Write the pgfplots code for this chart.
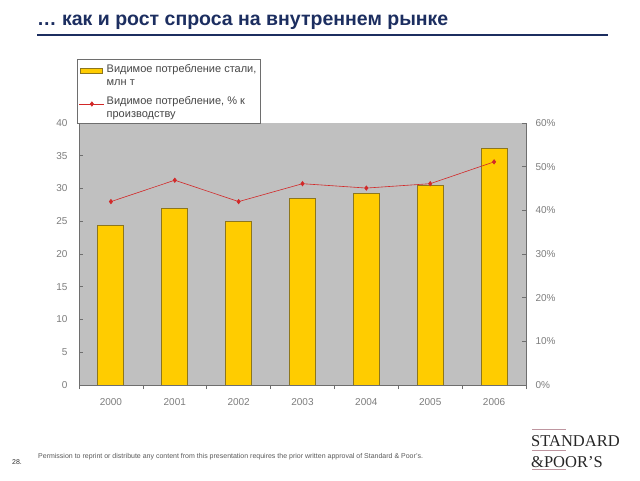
\documentclass[border=0pt]{standalone}
\usepackage{pgfplots}
\pgfplotsset{compat=1.18}
\usepackage{fontspec}
\setmainfont{Liberation Sans}
\newfontfamily\logofont{Liberation Serif}
\definecolor{navy}{RGB}{28,46,96}
\definecolor{plotbg}{RGB}{192,192,192}
\definecolor{barfill}{RGB}{255,204,0}
\definecolor{baredge}{RGB}{140,118,30}
\definecolor{linered}{RGB}{210,40,40}
\definecolor{ticktext}{RGB}{125,125,125}
\definecolor{axisgray}{RGB}{110,110,110}
\definecolor{legtext}{RGB}{70,70,70}
\definecolor{logoline}{RGB}{190,150,160}
\pgfplotsset{
  barleg/.style={legend image code/.code={\draw[##1] (0pt,2pt) rectangle (22pt,7pt);}},
  lineleg/.style={legend image code/.code={\draw[mark repeat=2,mark phase=2,##1] plot coordinates {(-1pt,3.5pt)(11.5pt,3.5pt)(24pt,3.5pt)};}},
}
\begin{document}
\begin{tikzpicture}[x=1pt,y=1pt]
\path[use as bounding box, fill=white] (0pt,0pt) rectangle (640pt,480pt);
% title
\node[anchor=base west, inner sep=0pt, text=navy, font=\fontsize{19.5}{21}\selectfont\bfseries] at (37pt,454pt) {… как и рост спроса на внутреннем рынке};
\draw[navy, line width=1.2pt] (37pt,445pt) -- (608pt,445pt);
% main axis: bars
\begin{axis}[
  at={(79pt,95pt)}, anchor=south west,
  scale only axis, width=447pt, height=262pt,
  xmin=-0.5, xmax=6.5, ymin=0, ymax=40,
  axis line style={draw=none},
  axis background/.style={fill=plotbg},
  xtick pos=bottom, ytick pos=left,
  xtick={0,...,6},
  xticklabels={2000,2001,2002,2003,2004,2005,2006},
  minor xtick={-0.5,0.5,...,6.5},
  major x tick style={draw=none},
  minor x tick style={axisgray, line width=0.6pt},
  xtick align=outside,
  minor tick length=4pt,
  ytick={0,5,...,40},
  ytick align=inside,
  major tick length=4pt,
  y tick style={axisgray, line width=0.6pt},
  tick label style={text=ticktext, font=\fontsize{10}{12}\selectfont},
  /pgf/number format/assume math mode=true,
  xticklabel style={yshift=-6pt},
  yticklabel style={xshift=-8pt},
  clip=false,
  legend style={at={(rel axis cs:-0.005,1.243)}, anchor=north west,
    draw=axisgray, fill=white, line width=0.6pt,
    font=\fontsize{11}{13}\selectfont, text=legtext,
    cells={anchor=west, align=left},
    inner xsep=2pt, inner ysep=2.5pt, row sep=5.5pt},
]
\addplot[ybar, bar width=26pt, fill=barfill, draw=baredge, line width=0.9pt, barleg]
  coordinates {(0,24.3) (1,26.9) (2,25.0) (3,28.5) (4,29.2) (5,30.5) (6,36.1)};
\addlegendentry{Видимое потребление стали,\\млн т}
\addlegendimage{linered, line width=0.6pt, mark=diamond*, mark size=2.2pt,
  mark options={fill=linered, draw=linered}, lineleg}
\addlegendentry{Видимое потребление, \% к\\производству}
\draw[axisgray, line width=0.6pt] (rel axis cs:0,1) -- (rel axis cs:0,0) -- (rel axis cs:1,0);
\end{axis}
% secondary axis: line
\begin{axis}[
  at={(79pt,95pt)}, anchor=south west,
  scale only axis, width=447pt, height=262pt,
  xmin=-0.5, xmax=6.5, ymin=0, ymax=60,
  axis line style={draw=none},
  hide x axis,
  ytick pos=right,
  ytick={0,10,...,60},
  yticklabel={\pgfmathprintnumber{\tick}\%},
  ytick align=inside,
  major tick length=4pt,
  y tick style={axisgray, line width=0.6pt},
  tick label style={text=ticktext, font=\fontsize{10}{12}\selectfont},
  /pgf/number format/assume math mode=true,
  yticklabel style={xshift=6pt},
  clip=false,
]
\addplot[linered, line width=0.6pt, mark=diamond*, mark size=2.2pt,
  mark options={fill=linered, draw=linered}]
  coordinates {(0,42.0) (1,46.9) (2,42.0) (3,46.1) (4,45.1) (5,46.1) (6,51.1)};
\draw[axisgray, line width=0.6pt] (rel axis cs:1,1) -- (rel axis cs:1,0);
\end{axis}
% footer
\node[anchor=base west, inner sep=0pt, font=\fontsize{7}{8}\selectfont, text=black!80] at (12pt,16pt) {28.};
\node[anchor=base west, inner sep=0pt, font=\fontsize{7}{8}\selectfont, text=black!65] at (38pt,22pt) {Permission to reprint or distribute any content from this presentation requires the prior written approval of Standard \& Poor's.};
% logo
\draw[logoline, line width=0.8pt] (532pt,51pt) -- (566pt,51pt);
\draw[logoline, line width=0.8pt] (532pt,29.5pt) -- (566pt,29.5pt);
\draw[logoline, line width=0.8pt] (532pt,11pt) -- (566pt,11pt);
\node[anchor=base west, inner sep=0pt, font=\logofont\fontsize{16.5}{18}\selectfont, text=black!85] at (531pt,34pt) {STANDARD};
\node[anchor=base west, inner sep=0pt, font=\logofont\fontsize{16.5}{18}\selectfont, text=black!85] at (531pt,12.5pt) {\&POOR’S};
\end{tikzpicture}
\end{document}
